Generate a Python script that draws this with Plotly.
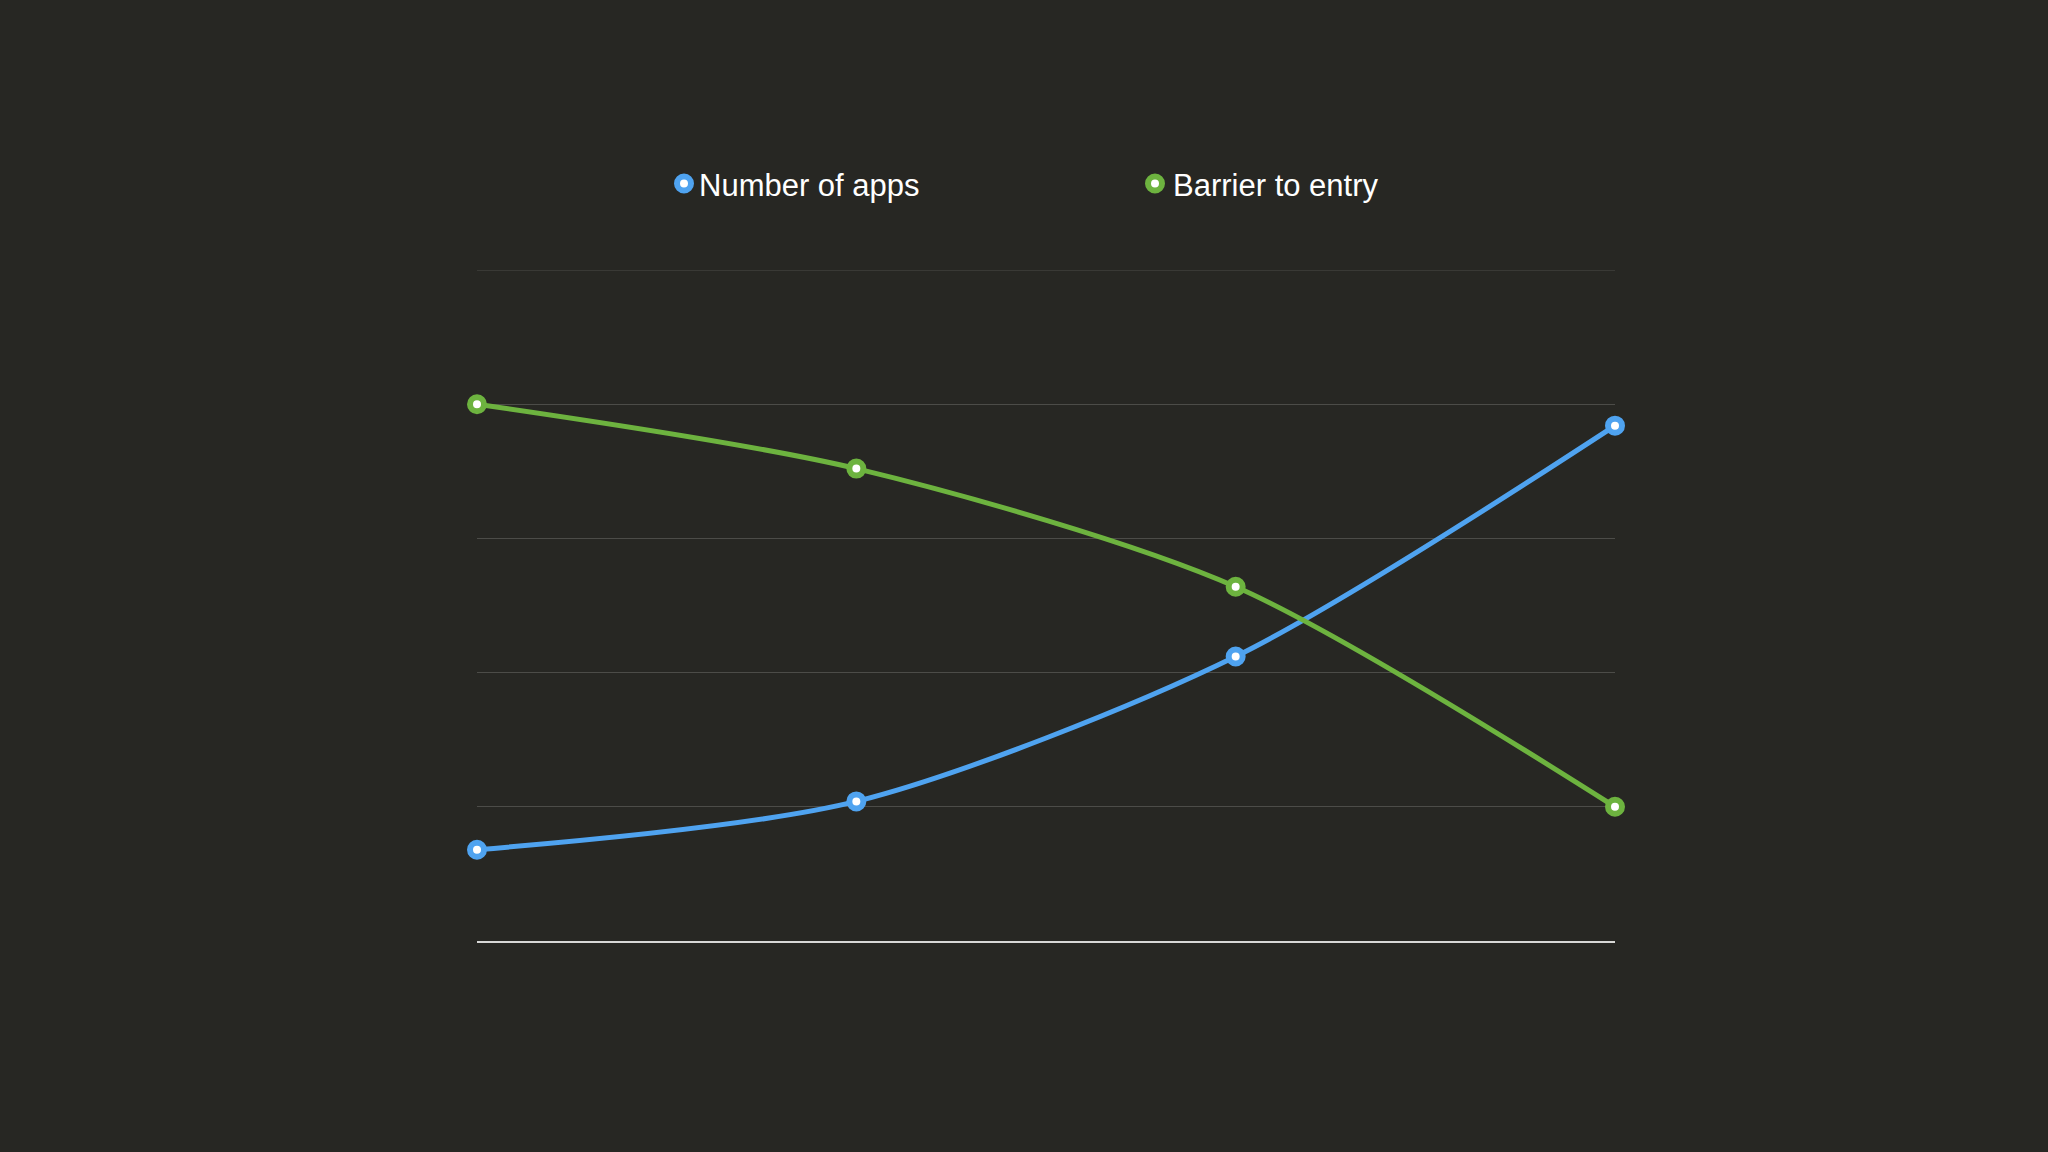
import plotly.graph_objects as go

# Stages along the x axis (no tick labels are shown on the chart)
stages = ["Stage 1", "Stage 2", "Stage 3", "Stage 4"]
number_of_apps = [0.68, 1.04, 2.12, 3.84]
barrier_to_entry = [4.0, 3.52, 2.64, 1.0]
y_ticks = [0, 1, 2, 3, 4, 5]
series_names = ["Number of apps", "Barrier to entry"]

BG = "#272723"
BLUE = "#4fa3f0"
GREEN = "#6db33f"
GRID = "#4c4c48"

W, H = 2048, 1152
L, R, T, B = 477, 433, 270, 211
plot_w = W - L - R
plot_h = H - T - B


def px_x(x):
    return (x - L) / plot_w


def px_y(y):
    return (H - B - y) / plot_h


x_idx = list(range(len(stages)))

fig = go.Figure()

for vals, col in [(number_of_apps, BLUE), (barrier_to_entry, GREEN)]:
    fig.add_trace(go.Scatter(
        x=x_idx, y=vals, mode="lines+markers",
        line=dict(color=col, width=5, shape="spline", smoothing=0.8),
        marker=dict(size=14, color="white", line=dict(color=col, width=6)),
        showlegend=False, cliponaxis=False, hoverinfo="skip"))

# hand-made legend: ringed dot + label
for name, col, mx, tx in [(series_names[0], BLUE, 684, 697),
                          (series_names[1], GREEN, 1155, 1171)]:
    fig.add_shape(type="circle", xref="paper", yref="paper",
                  xsizemode="pixel", ysizemode="pixel",
                  xanchor=px_x(mx), yanchor=px_y(183.5),
                  x0=-7, x1=7, y0=-7, y1=7,
                  fillcolor="white", line=dict(color=col, width=6))
    fig.add_annotation(text=name, xref="paper", yref="paper",
                       x=px_x(tx), y=px_y(186), xanchor="left", yanchor="middle",
                       showarrow=False, font=dict(size=31, color="white"))

# top gridline sits on the edge of the plot area, draw it explicitly
fig.add_shape(type="line", xref="paper", yref="y", x0=0, x1=1,
              y0=y_ticks[-1], y1=y_ticks[-1], layer="below",
              line=dict(color=GRID, width=1.2))

fig.update_layout(
    width=W, height=H,
    paper_bgcolor=BG, plot_bgcolor=BG,
    margin=dict(l=L, r=R, t=T, b=B),
    font=dict(family="Liberation Sans, Arial, sans-serif", color="white"),
    showlegend=False,
    xaxis=dict(range=[0, 3], showgrid=False, zeroline=False, showticklabels=False,
               showline=True, linecolor="#d8d8d6", linewidth=1.5, ticks=""),
    yaxis=dict(range=[0, 5], tickvals=y_ticks, showticklabels=False,
               gridcolor=GRID, gridwidth=1.2, zeroline=False, showline=False),
)

fig.write_html("out.html", config={"displayModeBar": False},
               post_script="document.body.style.margin='0';"
                           "document.body.style.background='%s';" % BG)
